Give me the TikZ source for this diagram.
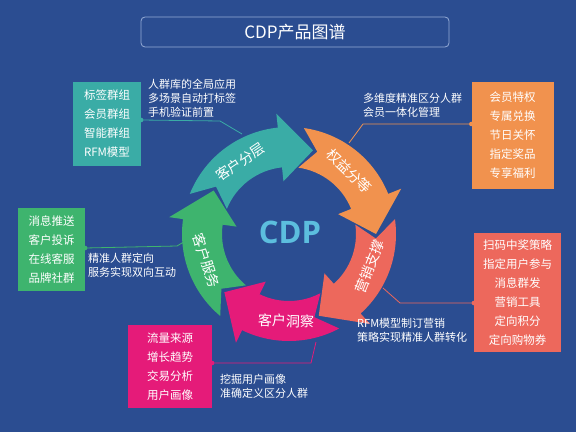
\documentclass[tikz,border=0pt]{standalone}
\usepackage{fontspec}
\setmainfont{Noto Sans CJK SC}
\newfontfamily\cdpfont{Open Sans}
\definecolor{bg}{RGB}{43,77,145}
\definecolor{cteal}{RGB}{58,172,166}
\definecolor{corange}{RGB}{241,146,78}
\definecolor{cred}{RGB}{237,104,92}
\definecolor{cmag}{RGB}{229,27,121}
\definecolor{cgreen}{RGB}{62,180,110}
\definecolor{ccdp}{RGB}{92,190,222}
\definecolor{cframe}{RGB}{150,172,214}
\newcommand\cycarrow[3]{%
 \pgfmathsetmacro\aT{#1-2}\pgfmathsetmacro\aN{#1-13}%
 \pgfmathsetmacro\aW{#2+12}\pgfmathsetmacro\aP{#2-10}%
 \fill[#3] (\aT:107) arc[start angle=\aT,end angle=\aW,radius=107] -- (\aW:121) -- (\aP:87) -- (\aW:53) -- (\aW:67) arc[start angle=\aW,end angle=\aT,radius=67] -- (\aN:87) -- cycle;}
\tikzset{
 itembox/.style={fill=#1,text=white,align=center,inner sep=0pt,font=\fontsize{11.5}{19}\selectfont},
 sidetext/.style={text=white,align=left,anchor=west,inner sep=0pt,font=\fontsize{11}{14}\selectfont},
 arrowlabel/.style={text=white,inner sep=0pt,font=\fontsize{14}{16}\selectfont},
 link/.style={draw=#1,line width=0.8pt},
 linkdot/.style={fill=#1,circle,inner sep=0pt,minimum size=4.5pt}
}
\begin{document}
\begin{tikzpicture}[x=1pt,y=1pt]
\fill[bg] (0,0) rectangle (576,432);
\useasboundingbox (0,0) rectangle (576,432);
% title
\node[draw=cframe,line width=0.8pt,rounded corners=4pt,minimum width=308pt,minimum height=30pt,text=white,font=\fontsize{17}{20}\selectfont] (title) at (295,400) {CDP产品图谱};
% cycle
\begin{scope}[shift={(289,198)}]
 \cycarrow{160}{84}{cteal}
 \cycarrow{84}{10}{corange}
 \cycarrow{10}{-60}{cred}
 \cycarrow{-60}{-128}{cmag}
 \cycarrow{232}{160}{cgreen}
 \node[arrowlabel,rotate=34] (l1) at (124:87) {客户分层};
 \node[arrowlabel,rotate=-44] (l2) at (46:87) {权益分等};
 \node[arrowlabel,rotate=68] (l3) at (-22:87) {营销支撑};
 \node[arrowlabel,rotate=-2] (l4) at (-92:87) {客户洞察};
 \node[arrowlabel,rotate=-72] (l5) at (198:87) {客户服务};
\end{scope}
\node[text=ccdp,font=\cdpfont\bfseries\fontsize{31}{34}\selectfont] (cdp) at (290,200) {CDP};
% boxes
\node[itembox=cteal,minimum width=68pt,minimum height=84pt] (b1) at (107,308) {标签群组\\会员群组\\智能群组\\RFM模型};
\node[itembox=corange,minimum width=82pt,minimum height=107pt] (b2) at (512.5,296.5) {会员特权\\专属兑换\\节日关怀\\指定奖品\\专享福利};
\node[itembox=cred,minimum width=87pt,minimum height=119pt] (b3) at (517.5,139.5) {扫码中奖策略\\指定用户参与\\消息群发\\营销工具\\定向积分\\定向购物券};
\node[itembox=cmag,minimum width=84pt,minimum height=83pt] (b4) at (170,65.5) {流量来源\\增长趋势\\交易分析\\用户画像};
\node[itembox=cgreen,minimum width=67pt,minimum height=83pt] (b5) at (51.5,182.5) {消息推送\\客户投诉\\在线客服\\品牌社群};
% side texts
\node[sidetext] (s1) at (148,333.5) {人群库的全局应用\\多场景自动打标签\\手机验证前置};
\node[sidetext] (s2) at (363,326.5) {多维度精准区分人群\\会员一体化管理};
\node[sidetext] (s3) at (357,102) {RFM模型制订营销\\策略实现精准人群转化};
\node[sidetext] (s4) at (220,45.5) {挖掘用户画像\\准确定义区分人群};
\node[sidetext] (s5) at (88,166.5) {精准人群定向\\服务实现双向互动};
% connectors
\coordinate (k1) at (220,311); \coordinate (e1) at (242,298);
\coordinate (k2) at (363,308); \coordinate (e2) at (349,289);
\coordinate (k3) at (400,129); \coordinate (e3) at (383,144);
\coordinate (k4) at (311,69); \coordinate (e4) at (316,90);
\coordinate (k5) at (177,186); \coordinate (e5) at (187,192);
\coordinate (d1) at (b1.east |- 0,312);
\coordinate (d2) at (b2.west |- 0,308);
\coordinate (d3) at (b3.west |- 0,129);
\coordinate (d4) at (b4.east |- 0,69);
\coordinate (d5) at (b5.east |- 0,184);
\draw[link=cteal] (d1) -- (k1) -- (e1);
\draw[link=corange] (d2) -- (k2) -- (e2);
\draw[link=cred] (d3) -- (k3) -- (e3);
\draw[link=cmag] (d4) -- (k4) -- (e4);
\draw[link=cgreen] (d5) -- (k5) -- (e5);
\node[linkdot=cteal] (p1) at (d1) {};
\node[linkdot=corange] (p2) at (d2) {};
\node[linkdot=cred] (p3) at (d3) {};
\node[linkdot=cmag] (p4) at (d4) {};
\node[linkdot=cgreen] (p5) at (d5) {};
\end{tikzpicture}
\end{document}
